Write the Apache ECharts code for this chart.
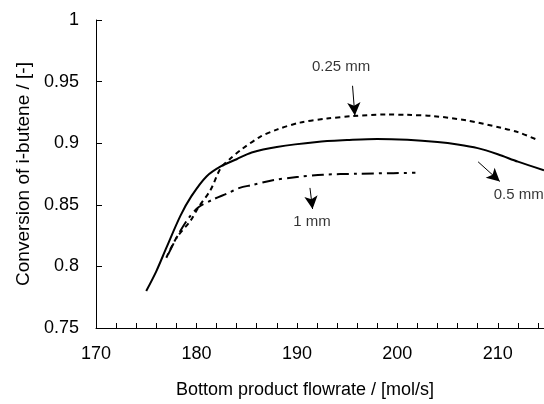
<!DOCTYPE html>
<html>
<head>
<meta charset="utf-8">
<script src="https://cdn.jsdelivr.net/npm/echarts@6/dist/echarts.min.js"></script>
<style>
html,body{margin:0;padding:0;background:#fff;}
#chart{width:544px;height:404px;}
</style>
</head>
<body>
<div id="chart"></div>
<script>
// 0.5 mm (solid)
var x05 = [175, 176, 177, 178.4, 179.5, 181, 182.5, 184, 185.5, 188, 192, 195, 198, 201, 204, 206, 208, 210, 212, 214.6];
var y05 = [0.780, 0.796, 0.815, 0.841, 0.857, 0.873, 0.8815, 0.887, 0.8925, 0.897, 0.901, 0.9025, 0.9035, 0.9028, 0.901, 0.899, 0.896, 0.891, 0.885, 0.878];
// 0.25 mm (dotted)
var x025 = [177, 178, 179.4, 180.2, 181.4, 182.4, 183.3, 184.5, 186.3, 188, 190.3, 193, 195.6, 198.9, 201, 203.6, 206.9, 210.2, 212, 214];
var y025 = [0.807, 0.823, 0.837, 0.848, 0.862, 0.8796, 0.887, 0.895, 0.905, 0.911, 0.9167, 0.920, 0.922, 0.9233, 0.923, 0.922, 0.9185, 0.9127, 0.909, 0.9025];
// 1 mm (dash-dot)
var x1 = [177.2, 178.2, 179.2, 180.2, 181.7, 183, 184.3, 185.5, 187.6, 190, 192.6, 196, 199.6, 201.8];
var y1 = [0.810, 0.826, 0.839, 0.848, 0.8545, 0.859, 0.8637, 0.866, 0.870, 0.8725, 0.8744, 0.8752, 0.8757, 0.876];

var xTicks = [170, 180, 190, 200, 210];
var yTicks = [0.75, 0.8, 0.85, 0.9, 0.95, 1];

// annotations
var annLabels = ['0.25 mm', '0.5 mm', '1 mm'];
var annText = [[194.4, 0.9616], [209.6, 0.858], [191.5, 0.8365]];
var annFrom = [[195.54, 0.9466], [208.04, 0.8849], [191.3, 0.8637]];
var annTo = [[195.77, 0.9225], [210.2, 0.869], [191.56, 0.8466]];

function pairs(xs, ys) { return xs.map(function (x, i) { return [x, ys[i]]; }); }

var FONT = '"Liberation Sans", Arial, Helvetica, sans-serif';
var chart = echarts.init(document.getElementById('chart'));

var arrowLines = annFrom.map(function (f, i) {
  return [{ coord: f }, { coord: annTo[i] }];
});
var textData = annText.map(function (t, i) {
  return {
    value: t,
    label: { align: i === 1 ? 'left' : 'center' }
  };
});

chart.setOption({
  animation: false,
  backgroundColor: '#fff',
  grid: { left: 96, right: 0, top: 20, bottom: 69, containLabel: false },
  xAxis: {
    type: 'value', min: 170, max: 214.6, interval: 2,
    name: 'Bottom product flowrate / [mol/s]', nameLocation: 'middle', nameGap: 53,
    nameTextStyle: { fontSize: 18, color: '#000', fontFamily: FONT, padding: [0, 30, 0, 0] },
    axisLine: { show: true, lineStyle: { color: '#000', width: 1 } },
    axisTick: { show: true, inside: true, length: 5, lineStyle: { color: '#000' } },
    axisLabel: {
      fontSize: 18, color: '#000', fontFamily: FONT, margin: 17, showMaxLabel: false,
      formatter: function (v) { return xTicks.indexOf(v) >= 0 ? String(v) : ''; }
    },
    splitLine: { show: false }
  },
  yAxis: {
    type: 'value', min: 0.75, max: 1, interval: 0.05,
    name: 'Conversion of i-butene / [-]', nameLocation: 'middle', nameGap: 61,
    nameTextStyle: { fontSize: 19, color: '#000', fontFamily: FONT },
    axisLine: { show: true, lineStyle: { color: '#000', width: 1 } },
    axisTick: { show: true, inside: true, length: 6, lineStyle: { color: '#000' } },
    axisLabel: {
      fontSize: 18, color: '#000', fontFamily: FONT, margin: 17,
      formatter: function (v) {
        var r = Math.round(v * 100) / 100;
        return yTicks.indexOf(r) >= 0 ? String(r) : '';
      }
    },
    splitLine: { show: false }
  },
  series: [
    {
      type: 'line', name: '0.5 mm', data: pairs(x05, y05), smooth: 0.3, showSymbol: false,
      lineStyle: { color: '#000', width: 2, type: 'solid' }
    },
    {
      type: 'line', name: '0.25 mm', data: pairs(x025, y025), smooth: 0.3, showSymbol: false,
      lineStyle: { color: '#000', width: 2, type: [5, 4] }
    },
    {
      type: 'line', name: '1 mm', data: pairs(x1, y1), smooth: 0.3, showSymbol: false,
      lineStyle: { color: '#000', width: 2, type: [12, 5, 3, 5] },
      markLine: {
        silent: true, symbol: ['none', 'arrow'], symbolSize: [10, 13], animation: false,
        label: { show: false },
        lineStyle: { color: '#000', width: 1, type: 'solid' },
        data: arrowLines
      }
    },
    {
      type: 'scatter', name: 'labels', data: textData, symbolSize: 0, silent: true,
      itemStyle: { color: 'transparent' },
      label: {
        show: true, position: 'inside', color: '#000', fontSize: 15, fontFamily: FONT,
        verticalAlign: 'middle',
        formatter: function (p) { return annLabels[p.dataIndex]; }
      }
    }
  ]
});
</script>
</body>
</html>
